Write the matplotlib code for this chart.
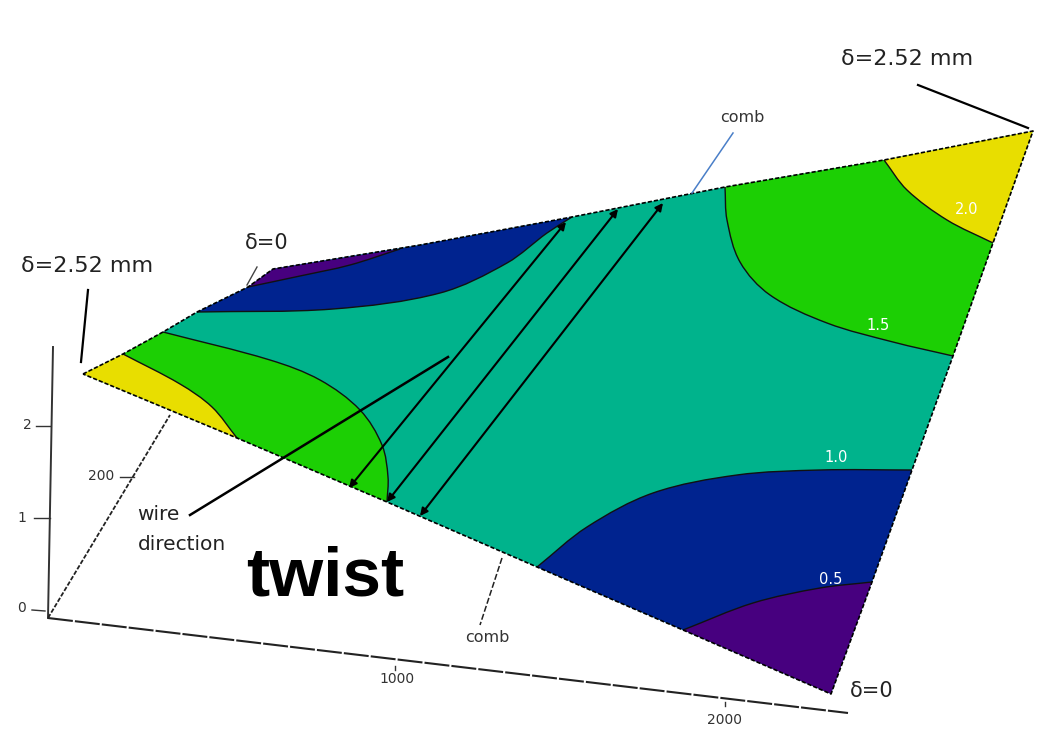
#Twist map of the wire plane, contours of delta in mm

import numpy as np
import matplotlib.pyplot as plt
from matplotlib.path import Path
from matplotlib.patches import PathPatch

outline = [(83, 374), (123, 354), (163, 332), (197, 312), (248, 287), (273, 269), (420, 245),
           (572, 217), (725, 187), (884, 160), (1033, 131), (993, 243), (953, 356),
           (912, 470), (872, 582), (831, 694), (683, 630), (537, 567), (387, 502), (237, 438)]

level_yellow_left = [(123, 354), (180, 384), (212, 407), (237, 438)]
level_green_left = [(163, 332), (270, 360), (320, 380), (360, 410), (382, 445), (388, 477), (387, 502)]
level_blue_top = [(197, 312), (333, 309), (440, 293), (507, 263), (547, 233), (572, 217)]
level_purple_top = [(248, 287), (300, 276), (350, 265), (400, 249)]
level_green_right = [(725, 187), (727, 220), (740, 262), (770, 295), (827, 323), (893, 342), (953, 356)]
level_yellow_right = [(884, 160), (907, 190), (947, 220), (993, 243)]
level_blue_bottom = [(537, 567), (587, 527), (653, 493), (737, 475), (820, 470), (912, 470)]
level_purple_bottom = [(683, 630), (753, 603), (820, 588), (872, 582)]

yellow = '#e8de00'
green = '#1ccf04'
teal = '#00b38c'
blue = '#00238f'
purple = '#47007f'

# level curve, outline corners that close it, colour. later ones lie on top
regions = [
    (level_green_left, [(237, 438), (123, 354)], green),
    (level_yellow_left, [(83, 374)], yellow),
    (level_blue_top, [(420, 245), (273, 269), (248, 287)], blue),
    (level_purple_top, [(273, 269)], purple),
    (level_green_right, [(993, 243), (884, 160)], green),
    (level_yellow_right, [(1033, 131)], yellow),
    (level_blue_bottom, [(872, 582), (683, 630)], blue),
    (level_purple_bottom, [(831, 694)], purple),
]

wire_arrows = [((566, 222), (349, 488)), ((618, 209), (387, 502)), ((663, 203), (420, 516))]
level_labels = [('2.0', 967, 210), ('1.5', 878, 325), ('1.0', 836, 457), ('0.5', 831, 579)]
tick_labels = [('2', 27, 425), ('1', 22, 518), ('0', 22, 608), ('200', 101, 476),
               ('1000', 397, 679), ('2000', 725, 720)]
tick_marks = [((36, 426), (50, 426)), ((34, 518), (50, 518)), ((32, 610), (45, 611)),
              ((120, 477), (134, 477)), ((395, 666), (395, 670)), ((725, 702), (725, 706))]


def smooth_path(points):
    # bezier segments through the read points, tangents scaled by segment length
    pts = np.array(points, dtype=float)
    verts = [pts[0]]
    codes = [Path.MOVETO]
    for i in range(len(pts) - 1):
        p0 = pts[max(i - 1, 0)]
        p1 = pts[i]
        p2 = pts[i + 1]
        p3 = pts[min(i + 2, len(pts) - 1)]
        d = np.linalg.norm(p2 - p1)
        t1 = (p2 - p0) / np.linalg.norm(p2 - p0)
        t2 = (p3 - p1) / np.linalg.norm(p3 - p1)
        verts += [p1 + t1 * d / 3, p2 - t2 * d / 3, p2]
        codes += [Path.CURVE4] * 3
    return verts, codes


fig = plt.figure(figsize=(10.48, 7.31), dpi=100)
ax = fig.add_axes([0, 0, 1, 1])
ax.set_xlim(0, 1048)
ax.set_ylim(731, 0)
ax.axis('off')

plt.rcParams['font.family'] = ['DejaVu Sans']

ax.fill(*zip(*outline), color=teal, lw=0, zorder=1)

for curve, corners, colour in regions:
    verts, codes = smooth_path(curve)
    for c in corners:
        verts.append(c)
        codes.append(Path.LINETO)
    verts.append(curve[0])
    codes.append(Path.CLOSEPOLY)
    ax.add_patch(PathPatch(Path(verts, codes), facecolor=colour, edgecolor='none', zorder=2))

for curve, corners, colour in regions:
    line_verts, line_codes = smooth_path(curve)
    ax.add_patch(PathPatch(Path(line_verts, line_codes), facecolor='none', edgecolor='#111111',
                           lw=1.0, zorder=3))

# dashed rim of the plane
xs, ys = zip(*(outline + outline[:1]))
ax.plot(xs, ys, color='black', lw=1.2, ls=(0, (2.5, 1.2)), zorder=4)

for start, end in wire_arrows:
    ax.annotate('', xy=end, xytext=start, zorder=5,
                arrowprops=dict(arrowstyle='<|-|>', color='black', lw=1.5, shrinkA=0, shrinkB=0,
                                mutation_scale=11))

# axes
ax.plot([53, 48], [347, 618], color='#333333', lw=1.4, zorder=1)
ax.plot([48, 848], [618, 713], color='#222222', lw=1.5, ls=(0, (12, 1)), zorder=1)
ax.plot([48, 170], [618, 415], color='#222222', lw=1.3, ls=(0, (2.5, 1)), zorder=1)
for a, b in tick_marks:
    ax.plot([a[0], b[0]], [a[1], b[1]], color='#333333', lw=1.0, zorder=1)

# leader lines
ax.plot([448, 190], [357, 515], color='black', lw=1.8, zorder=5)
ax.plot([918, 1028], [85, 128], color='black', lw=1.6, zorder=5)
ax.plot([88, 81], [290, 362], color='black', lw=1.6, zorder=5)
ax.plot([257, 247], [267, 285], color='#444444', lw=1.0, zorder=5)
ax.plot([502, 480], [558, 625], color='#222222', lw=1.1, ls=(0, (4, 1.5)), zorder=5)
ax.plot([733, 692], [133, 193], color='#4a7fc8', lw=1.1, zorder=5)

for text, x, y in level_labels:
    ax.text(x, y, text, color='white', fontsize=10.5, ha='center', va='center', zorder=6)
for text, x, y in tick_labels:
    ax.text(x, y, text, color='#333333', fontsize=10, ha='center', va='center')

ax.text(907, 59, 'δ=2.52 mm', color='#222222', fontsize=16, ha='center', va='center')
ax.text(87, 266, 'δ=2.52 mm', color='#222222', fontsize=16, ha='center', va='center')
ax.text(267, 243, 'δ=0', color='#222222', fontsize=15, ha='center', va='center')
ax.text(872, 691, 'δ=0', color='#222222', fontsize=15, ha='center', va='center')
ax.text(742, 117, 'comb', color='#333333', fontsize=11.5, ha='center', va='center')
ax.text(487, 637, 'comb', color='#333333', fontsize=11.5, ha='center', va='center')
ax.text(158, 514, 'wire', color='#222222', fontsize=14.5, ha='center', va='center')
ax.text(182, 545, 'direction', color='#222222', fontsize=14.5, ha='center', va='center')
ax.text(325, 577, 'twist', color='black', fontsize=50, fontweight='bold',
        family=['Liberation Sans'], ha='center', va='center', zorder=6)

fig.savefig('out.png', dpi=100)
